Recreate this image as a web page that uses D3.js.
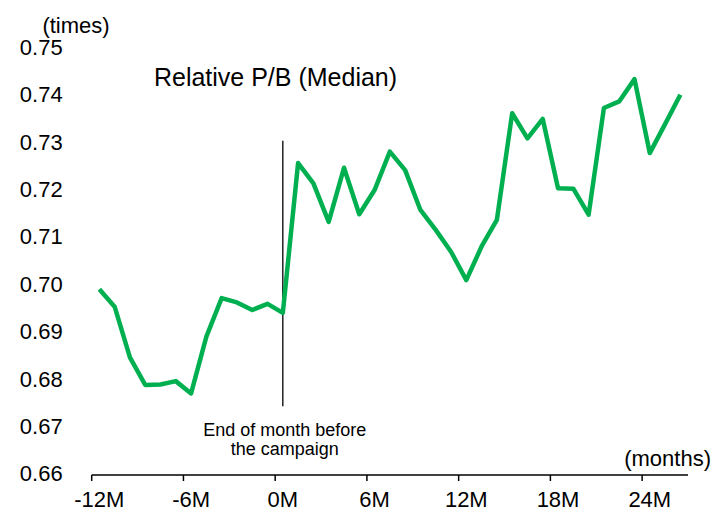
<!DOCTYPE html>
<html>
<head>
<meta charset="utf-8">
<script src="https://cdn.jsdelivr.net/npm/d3@7"></script>
<style>
  html, body { margin: 0; padding: 0; background: #fff; }
  svg { display: block; font-family: "Liberation Sans", Arial, sans-serif; }
</style>
</head>
<body>
<svg id="chart" width="712" height="512"></svg>
<script>
// ---- data ----
const months = d3.range(-12, 27); // -12 .. 26
const pbValues = [
  0.6992, 0.6955, 0.6848, 0.6790, 0.6791, 0.6798, 0.6772, 0.6892, 0.6973, 0.6964,
  0.6948, 0.6961, 0.6942, 0.7258, 0.7215, 0.7134, 0.7248, 0.7150, 0.7201, 0.7282,
  0.7243, 0.7159, 0.7117, 0.7071, 0.7011, 0.7082, 0.7138, 0.7363, 0.7310, 0.7351,
  0.7205, 0.7204, 0.7149, 0.7374, 0.7388, 0.7435, 0.7279, 0.7340, 0.7402
];
const xTickMonths = [-12, -6, 0, 6, 12, 18, 24];
const xTickLabels = ["-12M", "-6M", "0M", "6M", "12M", "18M", "24M"];
const yTicks = [0.66, 0.67, 0.68, 0.69, 0.70, 0.71, 0.72, 0.73, 0.74, 0.75];
const markerMonth = 0;
const markerRange = [0.7305, 0.6745];
const title = "Relative P/B (Median)";
const yUnit = "(times)";
const xUnit = "(months)";
const markerLabel = ["End of month before", "the campaign"];

// ---- scales ----
const svg = d3.select("#chart");
const x = d3.scaleBand().domain(months).range([91.7, 688]).padding(0);
const xc = m => x(m) + x.bandwidth() / 2;
const y = d3.scaleLinear().domain([0.66, 0.75]).range([475, 48.3]);

// ---- x axis ----
const xAxis = svg.append("g");
xAxis.append("line")
  .attr("x1", x.range()[0]).attr("x2", x.range()[1])
  .attr("y1", y(0.66)).attr("y2", y(0.66))
  .attr("stroke", "#000").attr("stroke-width", 1.5);
xAxis.selectAll("line.tick").data(xTickMonths).enter().append("line")
  .attr("class", "tick")
  .attr("x1", d => x(d)).attr("x2", d => x(d))
  .attr("y1", y(0.66)).attr("y2", y(0.66) + 6)
  .attr("stroke", "#000").attr("stroke-width", 1.5);
xAxis.selectAll("text").data(xTickMonths).enter().append("text")
  .attr("x", d => xc(d)).attr("y", 506.5)
  .attr("text-anchor", "middle")
  .attr("font-size", 22).attr("fill", "#000")
  .text((d, i) => xTickLabels[i]);

// ---- y tick labels ----
svg.append("g").selectAll("text").data(yTicks).enter().append("text")
  .attr("x", 62.7).attr("y", d => y(d) - 1.5)
  .attr("dy", "0.36em")
  .attr("text-anchor", "end")
  .attr("font-size", 22).attr("fill", "#000")
  .text(d => d3.format(".2f")(d));

// ---- units & title ----
svg.append("text").attr("x", 76).attr("y", 32.5).attr("text-anchor", "middle")
  .attr("font-size", 22).text(yUnit);
svg.append("text").attr("x", 711).attr("y", 466).attr("text-anchor", "end")
  .attr("font-size", 22).text(xUnit);
svg.append("text").attr("x", 275.5).attr("y", 86).attr("text-anchor", "middle")
  .attr("font-size", 25).text(title);

// ---- campaign marker ----
svg.append("line")
  .attr("x1", xc(markerMonth)).attr("x2", xc(markerMonth))
  .attr("y1", y(markerRange[0])).attr("y2", y(markerRange[1]))
  .attr("stroke", "#000").attr("stroke-width", 1.3);
svg.append("g").selectAll("text").data(markerLabel).enter().append("text")
  .attr("x", xc(markerMonth) + 2).attr("y", (d, i) => 436 + i * 18.5)
  .attr("text-anchor", "middle").attr("font-size", 18)
  .text(d => d);

// ---- line ----
const line = d3.line().x((d, i) => xc(months[i])).y(d => y(d));
svg.append("path").datum(pbValues)
  .attr("d", line)
  .attr("fill", "none")
  .attr("stroke", "#00B050")
  .attr("stroke-width", 4.5)
  .attr("stroke-linejoin", "round")
  .attr("stroke-linecap", "butt");
</script>
</body>
</html>
